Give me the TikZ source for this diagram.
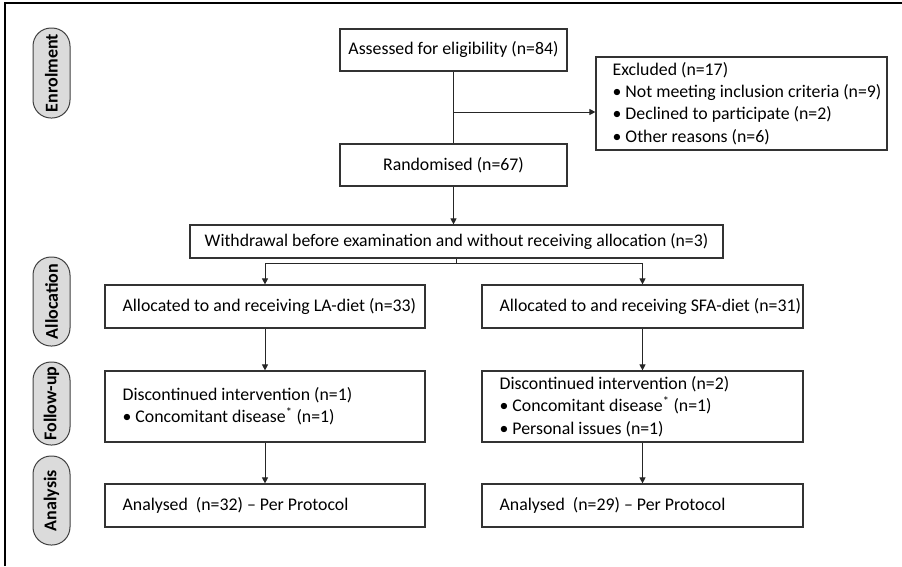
\documentclass[tikz,border=0pt]{standalone}
\usepackage{fontspec}
\setmainfont{Carlito}
\usetikzlibrary{arrows.meta}
\begin{document}
\begin{tikzpicture}[x=1pt,y=-1pt,
  every node/.style={font=\fontsize{17.8}{22.3}\selectfont},
  cbox/.style={draw=black!80,line width=1.2pt,rectangle,inner sep=0pt,align=center},
  ebox/.style={draw=black!80,line width=1.2pt,rectangle,inner sep=0pt},
  btext/.style={anchor=west,inner sep=0pt,align=left},
  pill/.style={draw=black!75,fill=black!14,line width=1pt,rounded corners=18pt,rotate=90,
    minimum height=37pt,inner sep=0pt,font=\fontsize{18}{20}\selectfont\bfseries},
  conn/.style={line width=1pt,draw=black!85},
  arr/.style={conn,-{Triangle[length=6pt,width=6pt]}}
]
\useasboundingbox (0,0) rectangle (902,566);
% frame
\draw[line width=1.5pt] (5,566) -- (5,3) -- (902,3);

% stage pills
\node[pill,minimum width=90pt] (penrol) at (51.5,73) {Enrolment};
\node[pill,minimum width=89pt] (palloc) at (51.5,301.5) {Allocation};
\node[pill,minimum width=83pt] (pfollow) at (51.5,403.5) {Follow-up};
\node[pill,minimum width=89pt] (panal) at (51.5,500.5) {Analysis};

% centred boxes
\node[cbox,minimum width=227pt,minimum height=42pt] (assessed) at (453.5,50) {Assessed for eligibility (n=84)};
\node[cbox,minimum width=227pt,minimum height=42pt] (random) at (453.5,165) {Randomised (n=67)};
\node[cbox,minimum width=533pt,minimum height=33pt,font=\fontsize{17.7}{20}\selectfont] (withdraw) at (456.5,241.5) {Withdrawal before examination and without receiving allocation (n=3)};

% left-aligned boxes
\node[ebox,minimum width=291pt,minimum height=93pt] (excluded) at (741.5,103.5) {};
\node[btext] (excludedtxt) at ([xshift=17pt]excluded.west)
  {Excluded (n=17)\\\textbullet\ Not meeting inclusion criteria (n=9)\\\textbullet\ Declined to participate (n=2)\\\textbullet\ Other reasons (n=6)};

\node[ebox,minimum width=320pt,minimum height=43pt] (la) at (265,306.5) {};
\node[btext] (latxt) at ([xshift=18pt]la.west) {Allocated to and receiving LA-diet (n=33)};
\node[ebox,minimum width=321pt,minimum height=43pt] (sfa) at (642.5,306.5) {};
\node[btext] (sfatxt) at ([xshift=18pt]sfa.west) {Allocated to and receiving SFA-diet (n=31)};

\node[ebox,minimum width=320pt,minimum height=71pt] (fla) at (265,406.5) {};
\node[btext] (flatxt) at ([xshift=18pt]fla.west)
  {Discontinued intervention (n=1)\\\textbullet\ Concomitant disease\textsuperscript{*} (n=1)};
\node[ebox,minimum width=321pt,minimum height=71pt] (fsfa) at (642.5,406.5) {};
\node[btext] (fsfatxt) at ([xshift=18pt]fsfa.west)
  {Discontinued intervention (n=2)\\\textbullet\ Concomitant disease\textsuperscript{*} (n=1)\\\textbullet\ Personal issues (n=1)};

\node[ebox,minimum width=320pt,minimum height=43pt] (ala) at (265,505.5) {};
\node[btext] (alatxt) at ([xshift=18pt]ala.west) {Analysed\ \ (n=32) -- Per Protocol};
\node[ebox,minimum width=321pt,minimum height=43pt] (asfa) at (642.5,505.5) {};
\node[btext] (asfatxt) at ([xshift=18pt]asfa.west) {Analysed\ \ (n=29) -- Per Protocol};

% connectors
\coordinate (exsplit) at (453.5,112);
\draw[conn] (assessed.south) -- (random.north);
\draw[arr] (exsplit) -- (exsplit -| excluded.west);
\draw[arr] (random.south) -- (random.south |- withdraw.north);
\coordinate (split) at (456.5,263);
\draw[conn] (withdraw.south) -- (split);
\draw[arr] (split) -| (la.north);
\draw[arr] (split) -| (sfa.north);
\draw[arr] (la.south) -- (fla.north);
\draw[arr] (sfa.south) -- (fsfa.north);
\draw[arr] (fla.south) -- (ala.north);
\draw[arr] (fsfa.south) -- (asfa.north);
\end{tikzpicture}
\end{document}
